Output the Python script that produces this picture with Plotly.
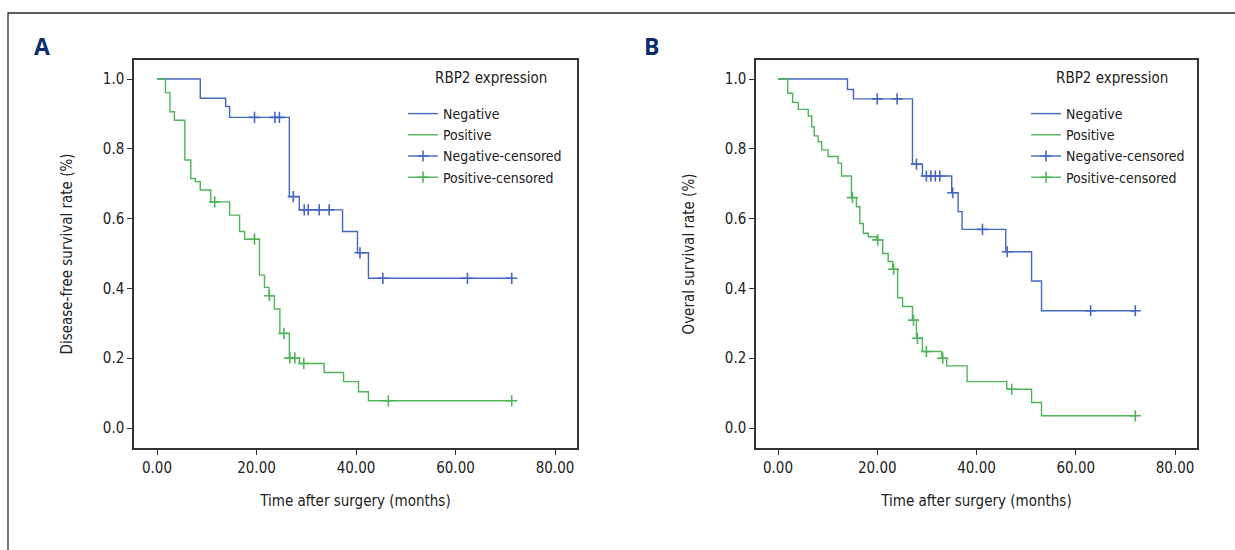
import numpy as np
import plotly.graph_objects as go

# ---------------- data ----------------
# Panel A: disease-free survival
a_neg_t = [0, 8.7, 13.8, 14.6, 26.6, 28.6, 37.3, 40.3, 42.5, 71.3]
a_neg_s = [1.0, 0.945, 0.921, 0.890, 0.663, 0.625, 0.563, 0.502, 0.429, 0.429]
a_neg_cens = [19.6, 23.7, 24.6, 27.4, 29.6, 30.4, 32.6, 34.6, 40.8, 45.4, 62.4, 71.3]

a_pos_t = [0, 1.7, 2.6, 3.5, 5.6, 6.8, 7.7, 8.7, 10.8, 14.6, 16.6, 17.6, 20.6, 21.6,
           22.5, 23.6, 24.7, 26.6, 28.6, 33.6, 37.5, 40.5, 42.5, 71.3]
a_pos_s = [1.0, 0.961, 0.906, 0.882, 0.768, 0.715, 0.706, 0.682, 0.648, 0.610, 0.563,
           0.541, 0.438, 0.403, 0.379, 0.341, 0.271, 0.201, 0.185, 0.159, 0.133, 0.104,
           0.078, 0.078]
a_pos_cens = [11.6, 19.6, 22.6, 25.5, 26.7, 27.7, 29.5, 46.5, 71.3]

# Panel B: overall survival
b_neg_t = [0, 14.0, 15.2, 27.1, 29.1, 35.0, 36.3, 37.1, 45.9, 51.1, 53.1, 72.0]
b_neg_s = [1.0, 0.970, 0.943, 0.756, 0.722, 0.674, 0.620, 0.569, 0.505, 0.421, 0.336, 0.336]
b_neg_cens = [20.0, 24.0, 27.9, 29.9, 30.8, 31.7, 32.6, 35.2, 41.2, 46.2, 63.0, 72.0]

b_pos_t = [0, 1.95, 2.95, 4.1, 6.1, 6.8, 7.3, 8.1, 8.8, 10.1, 12.1, 12.8, 14.8, 15.8,
           16.5, 17.2, 18.2, 19.9, 21.1, 22.2, 23.1, 24.1, 25.1, 27.1, 27.9, 29.1, 33.0,
           34.0, 38.1, 46.1, 51.1, 53.1, 72.0]
b_pos_s = [1.0, 0.959, 0.933, 0.913, 0.894, 0.863, 0.837, 0.820, 0.797, 0.778, 0.759,
           0.722, 0.660, 0.634, 0.586, 0.558, 0.548, 0.539, 0.500, 0.477, 0.455, 0.373,
           0.348, 0.309, 0.257, 0.219, 0.200, 0.178, 0.133, 0.111, 0.073, 0.035, 0.035]
b_pos_cens = [15.0, 20.1, 23.3, 27.3, 28.1, 29.9, 33.2, 47.1, 72.0]

group_names = ["Negative", "Positive"]
legend_title = "RBP2 expression"
panel_labels = ["A", "B"]
x_title = "Time after surgery (months)"
y_titles = ["Disease-free survival rate (%)", "Overal survival rate (%)"]
x_ticks = [0, 20, 40, 60, 80]
y_ticks = [0.0, 0.2, 0.4, 0.6, 0.8, 1.0]

# ---------------- styling ----------------
W, H = 1235, 550
BLUE = "#4468c0"
GREEN = "#4fb558"
AXC = "#333333"
TXT = "#222222"
FONT = "Liberation Sans Narrow, DejaVu Sans Condensed, Arial Narrow, sans-serif"
FS = 15


def px(xp):
    return xp / W


def py(yp):
    return 1 - yp / H


def step_value(times, surv, t):
    i = int(np.searchsorted(np.asarray(times), t, side="right")) - 1
    return surv[max(i, 0)]


def censor_xy(times, surv, cens):
    xs, ys = [], []
    for t in cens:
        xs += [t, None]
        ys += [step_value(times, surv, t), None]
    return xs, ys


fig = go.Figure()

panels = [
    dict(xa="x", ya="y", leg="legend",
         neg=(a_neg_t, a_neg_s, a_neg_cens), pos=(a_pos_t, a_pos_s, a_pos_cens)),
    dict(xa="x2", ya="y2", leg="legend2",
         neg=(b_neg_t, b_neg_s, b_neg_cens), pos=(b_pos_t, b_pos_s, b_pos_cens)),
]

for p in panels:
    for name, key, col in [(group_names[0], "neg", BLUE), (group_names[1], "pos", GREEN)]:
        t, s, _ = p[key]
        fig.add_trace(go.Scatter(
            x=t, y=s, mode="lines", name=name, line=dict(color=col, width=1.4, shape="hv"),
            xaxis=p["xa"], yaxis=p["ya"], legend=p["leg"], hoverinfo="skip"))
    for name, key, col in [(group_names[0] + "-censored", "neg", BLUE),
                           (group_names[1] + "-censored", "pos", GREEN)]:
        t, s, c = p[key]
        cx, cy = censor_xy(t, s, c)
        fig.add_trace(go.Scatter(
            x=cx, y=cy, mode="lines+markers", name=name, connectgaps=False,
            line=dict(color=col, width=1.4),
            marker=dict(symbol="cross-thin", size=8, color=col, line=dict(color=col, width=1.6)),
            xaxis=p["xa"], yaxis=p["ya"], legend=p["leg"], hoverinfo="skip"))

# axes geometry (pixels in the reference)
geom = [
    dict(left=134, right=577, x0px=157, x80px=555),
    dict(left=756, right=1197, x0px=778, x80px=1175),
]
top, bottom = 60, 448
y1px, y0px = 79, 428

layout_axes = {}
for i, g in enumerate(geom):
    ppu = (g["x80px"] - g["x0px"]) / 80.0
    xr = [(g["left"] - g["x0px"]) / ppu, (g["right"] - g["x0px"]) / ppu]
    ppy = (y0px - y1px) / 1.0
    yr = [-(bottom - y0px) / ppy, 1 + (y1px - top) / ppy]
    sfx = "" if i == 0 else "2"
    layout_axes["xaxis" + sfx] = dict(
        domain=[px(g["left"]), px(g["right"])], range=xr, anchor="y" + sfx,
        tickvals=x_ticks, tickformat=".2f", ticks="outside", ticklen=5, tickwidth=1.2,
        tickcolor=AXC, showline=True, linecolor=AXC, linewidth=1.5, mirror=True,
        showgrid=False, zeroline=False, tickfont=dict(size=FS, color=TXT, family=FONT),
        title=dict(text=x_title, font=dict(size=FS, color=TXT, family=FONT), standoff=20))
    layout_axes["yaxis" + sfx] = dict(
        domain=[py(bottom), py(top)], range=yr, anchor="x" + sfx,
        tickvals=y_ticks, tickformat=".1f", ticks="outside", ticklen=5, tickwidth=1.2,
        tickcolor=AXC, showline=True, linecolor=AXC, linewidth=1.5, mirror=True,
        showgrid=False, zeroline=False, tickfont=dict(size=FS, color=TXT, family=FONT),
        title=dict(text=y_titles[i], font=dict(size=FS, color=TXT, family=FONT), standoff=27))

leg_common = dict(
    xanchor="left", yanchor="top", bgcolor="rgba(0,0,0,0)", borderwidth=0,
    font=dict(size=14, color=TXT, family=FONT), itemwidth=30, tracegroupgap=0,
    traceorder="normal")

fig.update_layout(
    width=W, height=H, autosize=False,
    margin=dict(l=0, r=0, t=0, b=0, pad=0),
    paper_bgcolor="white", plot_bgcolor="white",
    font=dict(family=FONT, color=TXT),
    legend=dict(x=px(403), y=py(98), **leg_common),
    legend2=dict(x=px(1026), y=py(98), **leg_common),
    showlegend=True,
    **layout_axes,
)

for lab, xp in zip(panel_labels, [42, 651]):
    fig.add_annotation(x=px(xp), y=py(46), xref="paper", yref="paper", text="<b>%s</b>" % lab,
                       showarrow=False, xanchor="center", yanchor="middle",
                       font=dict(size=23, color="#0c2d6b", family="Open Sans, Liberation Sans, sans-serif"))

# legend titles
for xp in [491, 1112]:
    fig.add_annotation(x=px(xp), y=py(78), xref="paper", yref="paper", text=legend_title,
                       showarrow=False, xanchor="center", yanchor="middle",
                       font=dict(size=FS, color=TXT, family=FONT))

# outer frame of the figure
fig.add_shape(type="rect", xref="paper", yref="paper", x0=px(8), y0=-0.05, x1=1.05, y1=py(13),
              line=dict(color="#2a2a2a", width=1.3), fillcolor="rgba(0,0,0,0)", layer="below")

fig.write_html("out.html", config={"displayModeBar": False},
               post_script="document.body.style.margin='0';document.body.style.overflow='hidden';")
